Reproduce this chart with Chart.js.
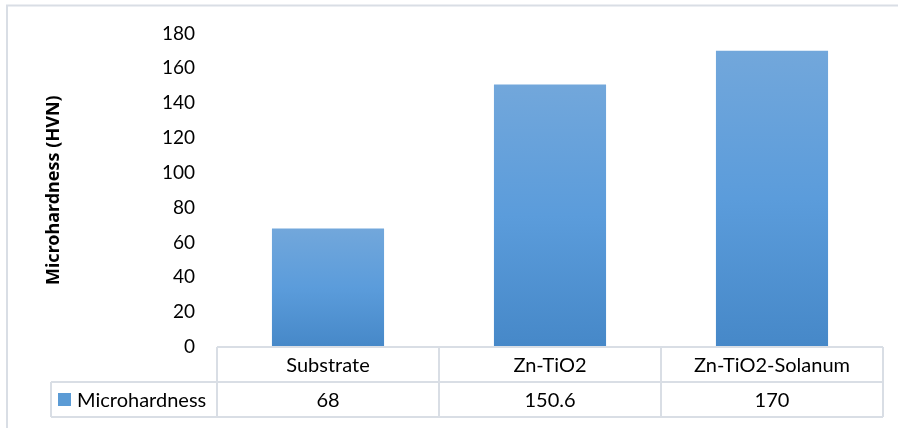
<!DOCTYPE html>
<html>
<head>
<meta charset="utf-8">
<script src="https://cdn.jsdelivr.net/npm/chart.js@4"></script>
<style>
  html, body { margin: 0; padding: 0; background: #fff; }
  #wrap { width: 898px; height: 428px; }
</style>
</head>
<body>
<div id="wrap"><canvas id="chart" width="898" height="428"></canvas></div>
<script>
// 数据
const categories = ['Substrate', 'Zn-TiO2', 'Zn-TiO2-Solanum'];
const seriesName = 'Microhardness';
const hardness = [68, 150.6, 170];
const yTicks = [0, 20, 40, 60, 80, 100, 120, 140, 160, 180];
const yTitle = 'Microhardness (HVN)';

const FONT = 'Lato, "Open Sans", sans-serif';
const lineColor = '#d9dee5';

// 每个柱子单独的渐变
function barGradient(context) {
    const chart = context.chart;
    const area = chart.chartArea;
    if (!area) return '#5b9bd5';
    const yScale = chart.scales.y;
    const v = context.raw;
    const top = yScale.getPixelForValue(v);
    const bottom = yScale.getPixelForValue(0);
    const g = chart.ctx.createLinearGradient(0, top, 0, bottom);
    g.addColorStop(0, '#72a7db');
    g.addColorStop(0.5, '#5b9cdb');
    g.addColorStop(1, '#4688c8');
    return g;
}

// 外框 + 数据表
const tablePlugin = {
    id: 'dataTable',
    beforeDraw(chart) {
        const ctx = chart.ctx;
        ctx.save();
        ctx.strokeStyle = lineColor;
        ctx.lineWidth = 2;
        ctx.beginPath();
        ctx.moveTo(7, 440);
        ctx.lineTo(7, 5.5);
        ctx.lineTo(900, 5.5);
        ctx.stroke();
        ctx.restore();
    },
    afterDraw(chart) {
        const ctx = chart.ctx;
        const xs = chart.scales.x;
        const area = chart.chartArea;
        const left = area.left, right = area.right;
        const y0 = area.bottom;
        const rowH = 35;
        const y1 = y0 + rowH, y2 = y1 + rowH;
        const legendLeft = 51;
        const step = (right - left) / categories.length;

        ctx.save();
        ctx.strokeStyle = lineColor;
        ctx.lineWidth = 2;
        ctx.beginPath();
        // 横线
        ctx.moveTo(left, y0); ctx.lineTo(right, y0);
        ctx.moveTo(legendLeft, y1); ctx.lineTo(right, y1);
        ctx.moveTo(legendLeft, y2); ctx.lineTo(right, y2);
        // 竖线
        ctx.moveTo(legendLeft, y1); ctx.lineTo(legendLeft, y2);
        for (let i = 0; i <= categories.length; i++) {
            const x = left + step * i;
            ctx.moveTo(x, y0); ctx.lineTo(x, y2);
        }
        ctx.stroke();

        ctx.fillStyle = '#000';
        ctx.font = '20px ' + FONT;
        ctx.textAlign = 'center';
        ctx.textBaseline = 'middle';
        categories.forEach((c, i) => {
            const x = xs.getPixelForValue(i);
            ctx.fillText(c, x, y0 + rowH / 2 + 1);
            ctx.fillText(String(hardness[i]), x, y1 + rowH / 2 + 1);
        });

        // 图例
        ctx.fillStyle = '#5b9bd5';
        ctx.fillRect(58, 393, 13, 13);
        ctx.fillStyle = '#000';
        ctx.textAlign = 'left';
        ctx.fillText(seriesName, 77, y1 + rowH / 2 + 1);
        ctx.restore();
    }
};

new Chart(document.getElementById('chart'), {
    type: 'bar',
    data: {
        labels: categories,
        datasets: [{
            label: seriesName,
            data: hardness,
            backgroundColor: barGradient,
            borderWidth: 0,
            categoryPercentage: 1,
            barPercentage: 0.505
        }]
    },
    options: {
        responsive: false,
        animation: false,
        layout: {
            padding: { left: 40, right: 15, top: 32, bottom: 81 }
        },
        scales: {
            x: {
                display: false
            },
            y: {
                min: 0,
                max: 180,
                afterBuildTicks(scale) {
                    scale.ticks = yTicks.map(v => ({ value: v }));
                },
                afterFit(scale) {
                    scale.width = 177;
                },
                grid: { display: false, drawTicks: false },
                border: { display: false },
                ticks: {
                    padding: 22,
                    color: '#000',
                    font: { family: FONT, size: 19 }
                },
                title: {
                    display: true,
                    text: yTitle,
                    color: '#000',
                    font: { family: '"Noto Sans", "Open Sans", sans-serif', size: 18, weight: 'bold' },
                    padding: { top: 3, bottom: 4 }
                }
            }
        },
        plugins: {
            legend: { display: false },
            tooltip: { enabled: false }
        }
    },
    plugins: [tablePlugin]
});
</script>
</body>
</html>
